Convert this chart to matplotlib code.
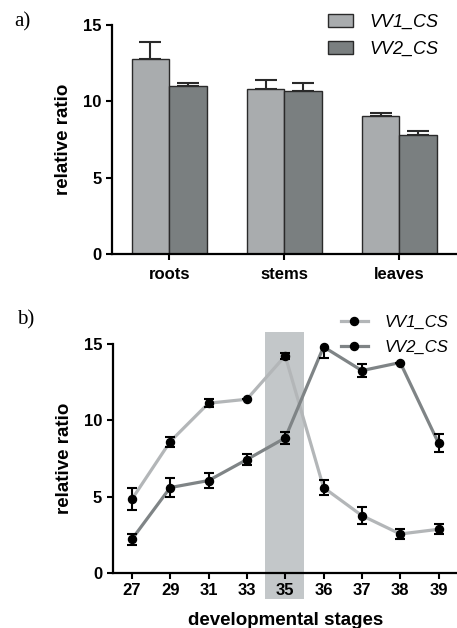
import matplotlib
matplotlib.use('Agg')
import matplotlib.pyplot as plt
from matplotlib.patches import Rectangle
import numpy as np

plt.rcParams['font.family'] = ['Liberation Sans', 'DejaVu Sans']

# panel a data
tissues = ['roots', 'stems', 'leaves']
vv1_tissue = [12.75, 10.79, 9.06]
vv1_tissue_err = [1.12, 0.58, 0.19]
vv2_tissue = [11.0, 10.67, 7.79]
vv2_tissue_err = [0.22, 0.53, 0.26]

# panel b data
stages = ['27', '29', '31', '33', '35', '36', '37', '38', '39']
vv1_stage = [4.82, 8.61, 11.13, 11.39, 14.24, 5.59, 3.75, 2.54, 2.85]
vv1_stage_err = [0.72, 0.33, 0.25, 0.0, 0.2, 0.5, 0.58, 0.36, 0.33]
vv2_stage = [2.19, 5.59, 6.05, 7.43, 8.85, 14.83, 13.27, 13.8, 8.5]
vv2_stage_err = [0.35, 0.6, 0.5, 0.38, 0.37, 0.75, 0.43, 0.0, 0.6]
highlight_stage = '35'

c_light = '#a9acae'
c_dark = '#7a7f80'
c_line_light = '#b3b6b8'
c_line_dark = '#7f8486'

fig = plt.figure(figsize=(4.57, 6.28), dpi=100)

def style_axes(ax, pad=3):
    for s in ['top', 'right']:
        ax.spines[s].set_visible(False)
    for s in ['left', 'bottom']:
        ax.spines[s].set_linewidth(1.6)
    ax.tick_params(width=1.5, length=4.5, labelsize=12, pad=3)
    ax.tick_params(axis='x', pad=pad)
    for lab in ax.get_xticklabels() + ax.get_yticklabels():
        lab.set_fontweight('bold')

# ---- a) bar chart
ax1 = fig.add_axes([0.245, 0.5955, 0.755, 0.3646])
x = np.arange(len(tissues))
w = 0.33
ax1.bar(x - w / 2, vv1_tissue, w, color=c_light, edgecolor='#2a2a2a', linewidth=1.0,
        label='VV1_CS', zorder=2)
ax1.bar(x + w / 2, vv2_tissue, w, color=c_dark, edgecolor='#2a2a2a', linewidth=1.0,
        label='VV2_CS', zorder=2)
ax1.errorbar(x - w / 2, vv1_tissue, yerr=[np.zeros(3), vv1_tissue_err], fmt='none',
             ecolor='#2a2a2a', elinewidth=1.5, capsize=8, capthick=1.5, zorder=1)
ax1.errorbar(x + w / 2, vv2_tissue, yerr=[np.zeros(3), vv2_tissue_err], fmt='none',
             ecolor='#2a2a2a', elinewidth=1.5, capsize=8, capthick=1.5, zorder=1)
ax1.set_xlim(-0.5, 2.5)
ax1.set_ylim(0, 15)
ax1.set_yticks([0, 5, 10, 15])
ax1.set_xticks(x)
ax1.set_xticklabels(tissues)
ax1.set_ylabel('relative ratio', fontsize=13.5, fontweight='bold', labelpad=8)
style_axes(ax1, pad=5)
ax1.legend(loc='upper right', bbox_to_anchor=(0.975, 0.99), bbox_transform=fig.transFigure,
           frameon=False, prop={'style': 'italic', 'size': 13}, handlelength=1.4,
           handleheight=0.75, handletextpad=0.9, labelspacing=0.55, borderaxespad=0)
fig.text(0.032, 0.958, 'a)', family='Liberation Serif', fontsize=15)

# ---- b) line chart
ax2 = fig.add_axes([0.2466, 0.0881, 0.755, 0.3637])
xs = np.arange(len(stages))
hi = stages.index(highlight_stage)
ax2.add_patch(Rectangle((hi - 0.53, -1.73), 1.03, 17.53, facecolor='#c3c7c9',
                        edgecolor='none', clip_on=False, zorder=0))
ax2.plot(xs, vv1_stage, color=c_line_light, lw=2.3, marker='o', ms=5.8, mfc='black',
         mec='black', label='VV1_CS', clip_on=False, zorder=3)
ax2.plot(xs, vv2_stage, color=c_line_dark, lw=2.3, marker='o', ms=5.8, mfc='black',
         mec='black', label='VV2_CS', clip_on=False, zorder=3)
ax2.errorbar(xs, vv1_stage, yerr=vv1_stage_err, fmt='none', ecolor='black',
             elinewidth=1.5, capsize=3.5, capthick=1.5, zorder=4)
ax2.errorbar(xs, vv2_stage, yerr=vv2_stage_err, fmt='none', ecolor='black',
             elinewidth=1.5, capsize=3.5, capthick=1.5, zorder=4)
ax2.set_xlim(-0.5, 8.5)
ax2.set_ylim(0, 15)
ax2.set_yticks([0, 5, 10, 15])
ax2.set_xticks(xs)
ax2.set_xticklabels(stages)
ax2.set_ylabel('relative ratio', fontsize=13.5, fontweight='bold', labelpad=8)
ax2.set_xlabel('developmental stages', fontsize=13.5, fontweight='bold', labelpad=10)
style_axes(ax2)
ax2.legend(loc='upper right', bbox_to_anchor=(0.995, 0.51), bbox_transform=fig.transFigure,
           frameon=False, prop={'style': 'italic', 'size': 12}, handlelength=1.6,
           handletextpad=1.0, labelspacing=0.6, borderaxespad=0)
fig.text(0.037, 0.483, 'b)', family='Liberation Serif', fontsize=15)

fig.savefig('out.png', dpi=100)
